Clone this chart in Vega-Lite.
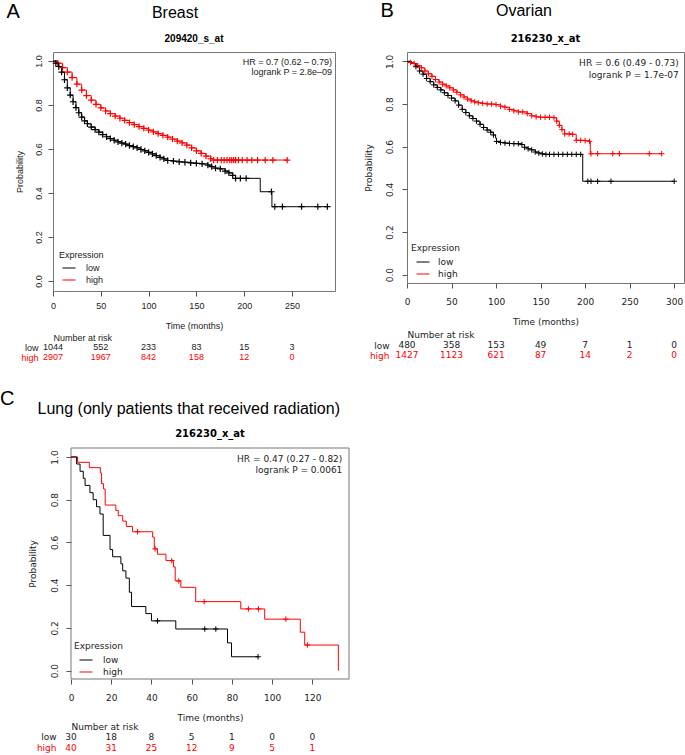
{
"$schema": "https://vega.github.io/schema/vega-lite/v6.json",
"padding": {"left": 0, "top": 0, "right": 0, "bottom": 0},
"background": "white",
"config": {
  "view": {"stroke": "#777777", "strokeWidth": 1},
  "axis": {"grid": false, "domain": false, "tickColor": "#555555", "tickSize": 5, "labelFontSize": 9, "titleFontSize": 9, "titleFontWeight": "normal", "labelColor": "#222222", "titleColor": "#222222", "labelFlush": false, "labelOverlap": false},
  "axisY": {"labelAngle": 270, "labelAlign": "center", "labelBaseline": "bottom"},
  "legend": {"symbolType": "stroke", "titleFontSize": 9, "titleFontWeight": "normal", "labelFontSize": 9, "padding": 0, "rowPadding": 2, "symbolStrokeWidth": 1, "labelColor": "#222222", "titleColor": "#222222"},
  "title": {"color": "#000000", "fontWeight": "normal"}
},
"datasets": {
"km": [
{"p":"A","g":"high","t":0,"s":1,"c":0},{"p":"A","g":"high","t":5,"s":0.99,"c":1},{"p":"A","g":"high","t":10,"s":0.97,"c":1},{"p":"A","g":"high","t":15,"s":0.95,"c":1},{"p":"A","g":"high","t":20,"s":0.925,"c":1},{"p":"A","g":"high","t":25,"s":0.895,"c":1},{"p":"A","g":"high","t":30,"s":0.868,"c":1},{"p":"A","g":"high","t":35,"s":0.843,"c":1},{"p":"A","g":"high","t":40,"s":0.822,"c":1},{"p":"A","g":"high","t":45,"s":0.803,"c":1},{"p":"A","g":"high","t":50,"s":0.787,"c":1},{"p":"A","g":"high","t":55,"s":0.773,"c":1},{"p":"A","g":"high","t":60,"s":0.761,"c":1},{"p":"A","g":"high","t":65,"s":0.75,"c":1},{"p":"A","g":"high","t":70,"s":0.74,"c":1},{"p":"A","g":"high","t":75,"s":0.73,"c":1},{"p":"A","g":"high","t":80,"s":0.72,"c":1},{"p":"A","g":"high","t":85,"s":0.711,"c":1},{"p":"A","g":"high","t":90,"s":0.702,"c":1},{"p":"A","g":"high","t":95,"s":0.694,"c":1},{"p":"A","g":"high","t":100,"s":0.686,"c":1},{"p":"A","g":"high","t":105,"s":0.678,"c":1},{"p":"A","g":"high","t":110,"s":0.67,"c":1},{"p":"A","g":"high","t":115,"s":0.662,"c":1},{"p":"A","g":"high","t":120,"s":0.654,"c":1},{"p":"A","g":"high","t":125,"s":0.645,"c":1},{"p":"A","g":"high","t":130,"s":0.636,"c":1},{"p":"A","g":"high","t":135,"s":0.628,"c":1},{"p":"A","g":"high","t":140,"s":0.618,"c":1},{"p":"A","g":"high","t":145,"s":0.605,"c":1},{"p":"A","g":"high","t":150,"s":0.592,"c":1},{"p":"A","g":"high","t":155,"s":0.58,"c":1},{"p":"A","g":"high","t":160,"s":0.568,"c":1},{"p":"A","g":"high","t":165,"s":0.556,"c":1},{"p":"A","g":"high","t":168,"s":0.55,"c":1},{"p":"A","g":"high","t":172,"s":0.55,"c":1},{"p":"A","g":"high","t":176,"s":0.55,"c":1},{"p":"A","g":"high","t":179,"s":0.55,"c":1},{"p":"A","g":"high","t":182,"s":0.55,"c":1},{"p":"A","g":"high","t":185,"s":0.55,"c":1},{"p":"A","g":"high","t":187,"s":0.55,"c":1},{"p":"A","g":"high","t":189,"s":0.55,"c":1},{"p":"A","g":"high","t":191,"s":0.55,"c":1},{"p":"A","g":"high","t":194,"s":0.55,"c":1},{"p":"A","g":"high","t":198,"s":0.55,"c":1},{"p":"A","g":"high","t":203,"s":0.55,"c":1},{"p":"A","g":"high","t":208,"s":0.55,"c":1},{"p":"A","g":"high","t":214,"s":0.55,"c":1},{"p":"A","g":"high","t":222,"s":0.55,"c":1},{"p":"A","g":"high","t":230,"s":0.55,"c":1},{"p":"A","g":"high","t":245,"s":0.55,"c":1},
{"p":"A","g":"low","t":0,"s":1,"c":0},{"p":"A","g":"low","t":3,"s":0.99,"c":1},{"p":"A","g":"low","t":6,"s":0.975,"c":1},{"p":"A","g":"low","t":9,"s":0.95,"c":1},{"p":"A","g":"low","t":12,"s":0.915,"c":1},{"p":"A","g":"low","t":15,"s":0.878,"c":1},{"p":"A","g":"low","t":18,"s":0.845,"c":1},{"p":"A","g":"low","t":21,"s":0.815,"c":1},{"p":"A","g":"low","t":24,"s":0.788,"c":1},{"p":"A","g":"low","t":27,"s":0.765,"c":1},{"p":"A","g":"low","t":30,"s":0.745,"c":1},{"p":"A","g":"low","t":33,"s":0.728,"c":1},{"p":"A","g":"low","t":36,"s":0.715,"c":1},{"p":"A","g":"low","t":40,"s":0.7,"c":1},{"p":"A","g":"low","t":44,"s":0.688,"c":1},{"p":"A","g":"low","t":48,"s":0.677,"c":1},{"p":"A","g":"low","t":52,"s":0.666,"c":1},{"p":"A","g":"low","t":56,"s":0.656,"c":1},{"p":"A","g":"low","t":60,"s":0.647,"c":1},{"p":"A","g":"low","t":64,"s":0.64,"c":1},{"p":"A","g":"low","t":68,"s":0.633,"c":1},{"p":"A","g":"low","t":72,"s":0.627,"c":1},{"p":"A","g":"low","t":76,"s":0.622,"c":1},{"p":"A","g":"low","t":80,"s":0.616,"c":1},{"p":"A","g":"low","t":84,"s":0.611,"c":1},{"p":"A","g":"low","t":88,"s":0.605,"c":1},{"p":"A","g":"low","t":92,"s":0.598,"c":1},{"p":"A","g":"low","t":96,"s":0.592,"c":1},{"p":"A","g":"low","t":100,"s":0.585,"c":1},{"p":"A","g":"low","t":104,"s":0.578,"c":1},{"p":"A","g":"low","t":108,"s":0.57,"c":1},{"p":"A","g":"low","t":112,"s":0.562,"c":1},{"p":"A","g":"low","t":116,"s":0.555,"c":1},{"p":"A","g":"low","t":120,"s":0.548,"c":1},{"p":"A","g":"low","t":126,"s":0.545,"c":1},{"p":"A","g":"low","t":132,"s":0.542,"c":1},{"p":"A","g":"low","t":138,"s":0.54,"c":1},{"p":"A","g":"low","t":144,"s":0.537,"c":1},{"p":"A","g":"low","t":150,"s":0.535,"c":1},{"p":"A","g":"low","t":156,"s":0.533,"c":1},{"p":"A","g":"low","t":162,"s":0.527,"c":1},{"p":"A","g":"low","t":166,"s":0.52,"c":1},{"p":"A","g":"low","t":170,"s":0.513,"c":1},{"p":"A","g":"low","t":175,"s":0.51,"c":1},{"p":"A","g":"low","t":180,"s":0.5,"c":1},{"p":"A","g":"low","t":184,"s":0.492,"c":1},{"p":"A","g":"low","t":188,"s":0.48,"c":1},{"p":"A","g":"low","t":191,"s":0.467,"c":1},{"p":"A","g":"low","t":196,"s":0.467,"c":1},{"p":"A","g":"low","t":202,"s":0.467,"c":1},{"p":"A","g":"low","t":216.8,"s":0.406,"c":0},{"p":"A","g":"low","t":228.5,"s":0.406,"c":1},{"p":"A","g":"low","t":229,"s":0.338,"c":0},{"p":"A","g":"low","t":232,"s":0.338,"c":1},{"p":"A","g":"low","t":240,"s":0.338,"c":1},{"p":"A","g":"low","t":260,"s":0.338,"c":1},{"p":"A","g":"low","t":277,"s":0.338,"c":1},{"p":"A","g":"low","t":287,"s":0.338,"c":1},
{"p":"B","g":"high","t":0,"s":1,"c":0},{"p":"B","g":"high","t":4,"s":0.995,"c":1},{"p":"B","g":"high","t":8,"s":0.99,"c":1},{"p":"B","g":"high","t":12,"s":0.98,"c":1},{"p":"B","g":"high","t":16,"s":0.97,"c":1},{"p":"B","g":"high","t":20,"s":0.955,"c":1},{"p":"B","g":"high","t":24,"s":0.942,"c":1},{"p":"B","g":"high","t":28,"s":0.93,"c":1},{"p":"B","g":"high","t":32,"s":0.915,"c":1},{"p":"B","g":"high","t":36,"s":0.903,"c":1},{"p":"B","g":"high","t":40,"s":0.893,"c":1},{"p":"B","g":"high","t":44,"s":0.885,"c":1},{"p":"B","g":"high","t":48,"s":0.876,"c":1},{"p":"B","g":"high","t":52,"s":0.866,"c":1},{"p":"B","g":"high","t":56,"s":0.855,"c":1},{"p":"B","g":"high","t":60,"s":0.843,"c":1},{"p":"B","g":"high","t":64,"s":0.833,"c":1},{"p":"B","g":"high","t":68,"s":0.823,"c":1},{"p":"B","g":"high","t":72,"s":0.815,"c":1},{"p":"B","g":"high","t":76,"s":0.81,"c":1},{"p":"B","g":"high","t":80,"s":0.806,"c":1},{"p":"B","g":"high","t":85,"s":0.803,"c":1},{"p":"B","g":"high","t":90,"s":0.8,"c":1},{"p":"B","g":"high","t":95,"s":0.8,"c":1},{"p":"B","g":"high","t":100,"s":0.797,"c":1},{"p":"B","g":"high","t":105,"s":0.79,"c":1},{"p":"B","g":"high","t":110,"s":0.785,"c":1},{"p":"B","g":"high","t":115,"s":0.775,"c":1},{"p":"B","g":"high","t":120,"s":0.768,"c":1},{"p":"B","g":"high","t":125,"s":0.763,"c":1},{"p":"B","g":"high","t":130,"s":0.763,"c":1},{"p":"B","g":"high","t":135,"s":0.755,"c":1},{"p":"B","g":"high","t":140,"s":0.745,"c":1},{"p":"B","g":"high","t":145,"s":0.74,"c":1},{"p":"B","g":"high","t":150,"s":0.738,"c":1},{"p":"B","g":"high","t":155,"s":0.738,"c":1},{"p":"B","g":"high","t":160,"s":0.738,"c":1},{"p":"B","g":"high","t":165,"s":0.736,"c":1},{"p":"B","g":"high","t":168,"s":0.72,"c":1},{"p":"B","g":"high","t":171,"s":0.7,"c":1},{"p":"B","g":"high","t":174,"s":0.68,"c":1},{"p":"B","g":"high","t":177,"s":0.66,"c":1},{"p":"B","g":"high","t":182,"s":0.66,"c":1},{"p":"B","g":"high","t":186,"s":0.658,"c":1},{"p":"B","g":"high","t":190,"s":0.63,"c":1},{"p":"B","g":"high","t":195,"s":0.63,"c":1},{"p":"B","g":"high","t":200,"s":0.628,"c":1},{"p":"B","g":"high","t":205,"s":0.625,"c":1},{"p":"B","g":"high","t":205.8,"s":0.567,"c":0},{"p":"B","g":"high","t":206.6,"s":0.567,"c":1},{"p":"B","g":"high","t":214,"s":0.567,"c":1},{"p":"B","g":"high","t":231,"s":0.567,"c":1},{"p":"B","g":"high","t":238.5,"s":0.567,"c":1},{"p":"B","g":"high","t":272,"s":0.567,"c":1},{"p":"B","g":"high","t":286,"s":0.567,"c":1},
{"p":"B","g":"low","t":0,"s":1,"c":0},{"p":"B","g":"low","t":5,"s":0.99,"c":0},{"p":"B","g":"low","t":10,"s":0.975,"c":1},{"p":"B","g":"low","t":14,"s":0.955,"c":1},{"p":"B","g":"low","t":18,"s":0.94,"c":1},{"p":"B","g":"low","t":22,"s":0.92,"c":1},{"p":"B","g":"low","t":26,"s":0.905,"c":1},{"p":"B","g":"low","t":30,"s":0.89,"c":1},{"p":"B","g":"low","t":34,"s":0.878,"c":1},{"p":"B","g":"low","t":38,"s":0.866,"c":1},{"p":"B","g":"low","t":42,"s":0.853,"c":1},{"p":"B","g":"low","t":46,"s":0.84,"c":1},{"p":"B","g":"low","t":50,"s":0.828,"c":1},{"p":"B","g":"low","t":54,"s":0.815,"c":1},{"p":"B","g":"low","t":58,"s":0.795,"c":1},{"p":"B","g":"low","t":62,"s":0.775,"c":1},{"p":"B","g":"low","t":66,"s":0.76,"c":1},{"p":"B","g":"low","t":70,"s":0.745,"c":1},{"p":"B","g":"low","t":74,"s":0.732,"c":1},{"p":"B","g":"low","t":78,"s":0.72,"c":1},{"p":"B","g":"low","t":82,"s":0.705,"c":1},{"p":"B","g":"low","t":86,"s":0.69,"c":1},{"p":"B","g":"low","t":90,"s":0.678,"c":1},{"p":"B","g":"low","t":94,"s":0.668,"c":1},{"p":"B","g":"low","t":97,"s":0.655,"c":1},{"p":"B","g":"low","t":99.5,"s":0.64,"c":0},{"p":"B","g":"low","t":100.5,"s":0.625,"c":1},{"p":"B","g":"low","t":105,"s":0.62,"c":1},{"p":"B","g":"low","t":110,"s":0.617,"c":1},{"p":"B","g":"low","t":115,"s":0.615,"c":1},{"p":"B","g":"low","t":120,"s":0.614,"c":1},{"p":"B","g":"low","t":125,"s":0.614,"c":1},{"p":"B","g":"low","t":129,"s":0.61,"c":1},{"p":"B","g":"low","t":132,"s":0.597,"c":1},{"p":"B","g":"low","t":136,"s":0.59,"c":1},{"p":"B","g":"low","t":140,"s":0.585,"c":1},{"p":"B","g":"low","t":144,"s":0.575,"c":1},{"p":"B","g":"low","t":148,"s":0.57,"c":1},{"p":"B","g":"low","t":152,"s":0.566,"c":1},{"p":"B","g":"low","t":156,"s":0.564,"c":1},{"p":"B","g":"low","t":160,"s":0.564,"c":1},{"p":"B","g":"low","t":165,"s":0.564,"c":1},{"p":"B","g":"low","t":170,"s":0.564,"c":1},{"p":"B","g":"low","t":175,"s":0.564,"c":1},{"p":"B","g":"low","t":180,"s":0.564,"c":1},{"p":"B","g":"low","t":185,"s":0.564,"c":1},{"p":"B","g":"low","t":190,"s":0.564,"c":1},{"p":"B","g":"low","t":195,"s":0.564,"c":1},{"p":"B","g":"low","t":197.3,"s":0.438,"c":0},{"p":"B","g":"low","t":203,"s":0.438,"c":1},{"p":"B","g":"low","t":206.6,"s":0.438,"c":1},{"p":"B","g":"low","t":214,"s":0.438,"c":1},{"p":"B","g":"low","t":229,"s":0.438,"c":1},{"p":"B","g":"low","t":300,"s":0.438,"c":1},
{"p":"C","g":"high","t":0,"s":1,"c":0},{"p":"C","g":"high","t":3.3,"s":0.975,"c":0},{"p":"C","g":"high","t":9.1,"s":0.95,"c":0},{"p":"C","g":"high","t":14.6,"s":0.925,"c":0},{"p":"C","g":"high","t":15.2,"s":0.875,"c":0},{"p":"C","g":"high","t":16.2,"s":0.85,"c":0},{"p":"C","g":"high","t":17,"s":0.775,"c":0},{"p":"C","g":"high","t":22.3,"s":0.75,"c":0},{"p":"C","g":"high","t":23.5,"s":0.725,"c":0},{"p":"C","g":"high","t":25.7,"s":0.7,"c":0},{"p":"C","g":"high","t":27.5,"s":0.675,"c":0},{"p":"C","g":"high","t":30.6,"s":0.65,"c":0},{"p":"C","g":"high","t":33.1,"s":0.65,"c":1},{"p":"C","g":"high","t":40.6,"s":0.625,"c":0},{"p":"C","g":"high","t":41.4,"s":0.57,"c":0},{"p":"C","g":"high","t":41.8,"s":0.57,"c":1},{"p":"C","g":"high","t":43,"s":0.545,"c":0},{"p":"C","g":"high","t":47.2,"s":0.515,"c":0},{"p":"C","g":"high","t":50.1,"s":0.515,"c":1},{"p":"C","g":"high","t":51,"s":0.485,"c":0},{"p":"C","g":"high","t":51.8,"s":0.42,"c":0},{"p":"C","g":"high","t":53.6,"s":0.42,"c":1},{"p":"C","g":"high","t":54.6,"s":0.39,"c":0},{"p":"C","g":"high","t":62,"s":0.323,"c":0},{"p":"C","g":"high","t":66.2,"s":0.323,"c":1},{"p":"C","g":"high","t":84.4,"s":0.289,"c":0},{"p":"C","g":"high","t":88.2,"s":0.289,"c":1},{"p":"C","g":"high","t":93.2,"s":0.289,"c":1},{"p":"C","g":"high","t":96.3,"s":0.241,"c":0},{"p":"C","g":"high","t":106.8,"s":0.241,"c":1},{"p":"C","g":"high","t":114,"s":0.18,"c":0},{"p":"C","g":"high","t":116.2,"s":0.12,"c":0},{"p":"C","g":"high","t":117.5,"s":0.12,"c":1},{"p":"C","g":"high","t":132.9,"s":0,"c":0},
{"p":"C","g":"low","t":0,"s":1,"c":0},{"p":"C","g":"low","t":2.8,"s":0.967,"c":0},{"p":"C","g":"low","t":4.5,"s":0.933,"c":0},{"p":"C","g":"low","t":6.1,"s":0.9,"c":0},{"p":"C","g":"low","t":7,"s":0.867,"c":0},{"p":"C","g":"low","t":9.4,"s":0.833,"c":0},{"p":"C","g":"low","t":11,"s":0.8,"c":0},{"p":"C","g":"low","t":12.7,"s":0.767,"c":0},{"p":"C","g":"low","t":14.4,"s":0.733,"c":0},{"p":"C","g":"low","t":16,"s":0.633,"c":0},{"p":"C","g":"low","t":19.4,"s":0.567,"c":0},{"p":"C","g":"low","t":20.7,"s":0.533,"c":0},{"p":"C","g":"low","t":24.8,"s":0.5,"c":0},{"p":"C","g":"low","t":25.7,"s":0.467,"c":0},{"p":"C","g":"low","t":27.3,"s":0.433,"c":0},{"p":"C","g":"low","t":29,"s":0.367,"c":0},{"p":"C","g":"low","t":30.1,"s":0.3,"c":0},{"p":"C","g":"low","t":37.2,"s":0.267,"c":0},{"p":"C","g":"low","t":40,"s":0.233,"c":0},{"p":"C","g":"low","t":43,"s":0.233,"c":1},{"p":"C","g":"low","t":52.1,"s":0.195,"c":0},{"p":"C","g":"low","t":66.5,"s":0.195,"c":1},{"p":"C","g":"low","t":72,"s":0.195,"c":1},{"p":"C","g":"low","t":77.8,"s":0.13,"c":0},{"p":"C","g":"low","t":79.8,"s":0.065,"c":0},{"p":"C","g":"low","t":93,"s":0.065,"c":1}
],
"risk": [
{"p":"A","g":"low","t":0,"n":1044},{"p":"A","g":"low","t":50,"n":552},{"p":"A","g":"low","t":100,"n":233},{"p":"A","g":"low","t":150,"n":83},{"p":"A","g":"low","t":200,"n":15},{"p":"A","g":"low","t":250,"n":3},
{"p":"A","g":"high","t":0,"n":2907},{"p":"A","g":"high","t":50,"n":1967},{"p":"A","g":"high","t":100,"n":842},{"p":"A","g":"high","t":150,"n":158},{"p":"A","g":"high","t":200,"n":12},{"p":"A","g":"high","t":250,"n":0},
{"p":"B","g":"low","t":0,"n":480},{"p":"B","g":"low","t":50,"n":358},{"p":"B","g":"low","t":100,"n":153},{"p":"B","g":"low","t":150,"n":49},{"p":"B","g":"low","t":200,"n":7},{"p":"B","g":"low","t":250,"n":1},{"p":"B","g":"low","t":300,"n":0},
{"p":"B","g":"high","t":0,"n":1427},{"p":"B","g":"high","t":50,"n":1123},{"p":"B","g":"high","t":100,"n":621},{"p":"B","g":"high","t":150,"n":87},{"p":"B","g":"high","t":200,"n":14},{"p":"B","g":"high","t":250,"n":2},{"p":"B","g":"high","t":300,"n":0},
{"p":"C","g":"low","t":0,"n":30},{"p":"C","g":"low","t":20,"n":18},{"p":"C","g":"low","t":40,"n":8},{"p":"C","g":"low","t":60,"n":5},{"p":"C","g":"low","t":80,"n":1},{"p":"C","g":"low","t":100,"n":0},{"p":"C","g":"low","t":120,"n":0},
{"p":"C","g":"high","t":0,"n":40},{"p":"C","g":"high","t":20,"n":31},{"p":"C","g":"high","t":40,"n":25},{"p":"C","g":"high","t":60,"n":12},{"p":"C","g":"high","t":80,"n":9},{"p":"C","g":"high","t":100,"n":5},{"p":"C","g":"high","t":120,"n":1}
],
"ann": [
{"p":"A","t":292,"s":1.015,"txt":"HR = 0.7 (0.62 – 0.79)\nlogrank P = 2.8e–09"},
{"p":"B","t":305,"s":1.011,"txt":"HR = 0.6 (0.49 - 0.73)\nlogrank P = 1.7e-07"},
{"p":"C","t":134.9,"s":1.011,"txt":"HR = 0.47 (0.27 - 0.82)\nlogrank P = 0.0061"}
]
},
"spacing": 25,
"resolve": {"scale": {"x": "independent", "y": "independent", "color": "independent"}, "axis": {"x": "independent", "y": "independent"}, "legend": {"color": "independent"}},
"vconcat": [
{
"spacing": 27,
"resolve": {"scale": {"x": "independent", "y": "independent", "color": "independent"}, "axis": {"x": "independent", "y": "independent"}, "legend": {"color": "independent"}},
"hconcat": [
{
"title": {"text": "A", "font": "Liberation Sans", "fontSize": 20, "anchor": "start", "frame": "bounds", "offset": -17, "dx": -8},
"resolve": {"scale": {"x": "independent", "y": "independent", "color": "independent"}, "axis": {"x": "independent", "y": "independent"}, "legend": {"color": "independent"}},
"vconcat": [
{
"title": {"text": "Breast", "font": "Liberation Sans", "fontSize": 16, "anchor": "middle", "frame": "bounds", "offset": 12.5},
"resolve": {"scale": {"x": "independent", "y": "independent", "color": "independent"}, "axis": {"x": "independent", "y": "independent"}, "legend": {"color": "independent"}},
"vconcat": [
{
"width": 282, "height": 239,
"title": {"text": "209420_s_at", "font": "Liberation Sans", "fontSize": 10, "fontWeight": "bold", "anchor": "middle", "frame": "group", "offset": 8.5},
"encoding": {
"x": {"field": "t", "type": "quantitative", "scale": {"domain": [0, 295], "nice": false, "zero": false}, "axis": {"values": [0, 50, 100, 150, 200, 250], "title": "Time (months)", "labelFont": "Liberation Sans", "titleFont": "Liberation Sans", "labelPadding": 5, "titlePadding": 11}}
},
"layer": [
{"data": {"name": "km"}, "transform": [{"filter": "datum.p === 'A'"}], "mark": {"type": "line", "interpolate": "step-after", "strokeWidth": 1},
 "encoding": {
  "y": {"field": "s", "type": "quantitative", "scale": {"domain": [-0.045, 1.041], "nice": false, "zero": false}, "axis": {"values": [0, 0.2, 0.4, 0.6, 0.8, 1], "format": ".1f", "title": "Probability", "labelFont": "Liberation Sans", "titleFont": "Liberation Sans", "labelPadding": 5, "titlePadding": 10}},
  "color": {"field": "g", "type": "nominal", "scale": {"domain": ["low", "high"], "range": ["#000000", "#ff0000"]}, "legend": {"title": "Expression", "orient": "bottom-left", "offset": 6, "symbolType": "stroke", "symbolOffset": 3, "symbolSize": 169, "labelOffset": 10, "titlePadding": 1, "rowPadding": -6, "labelFont": "Liberation Sans", "titleFont": "Liberation Sans"}}
 }},
{"data": {"name": "km"}, "transform": [{"filter": "datum.p === 'A' && datum.c === 1"}], "mark": {"type": "point", "shape": "M-1,0L1,0M0,-1L0,1", "size": 40, "filled": false, "strokeWidth": 1.2, "opacity": 1},
 "encoding": {
  "y": {"field": "s", "type": "quantitative", "scale": {"domain": [-0.045, 1.041], "nice": false, "zero": false}, "axis": null},
  "color": {"field": "g", "type": "nominal", "scale": {"domain": ["low", "high"], "range": ["#000000", "#ff0000"]}, "legend": {"title": "Expression", "orient": "bottom-left", "offset": 6, "symbolType": "stroke", "symbolOffset": 3, "symbolSize": 169, "labelOffset": 10, "titlePadding": 1, "rowPadding": -6, "labelFont": "Liberation Sans", "titleFont": "Liberation Sans"}}
 }},
{"data": {"name": "ann"}, "transform": [{"filter": "datum.p === 'A'"}], "mark": {"type": "text", "align": "right", "baseline": "top", "lineBreak": "\n", "font": "Liberation Sans", "fontSize": 9, "lineHeight": 10},
 "encoding": {"y": {"field": "s", "type": "quantitative", "scale": {"domain": [-0.045, 1.041], "nice": false, "zero": false}, "axis": null}, "text": {"field": "txt"}, "color": {"value": "#222222"}}},
{"data": {"name": "risk"}, "transform": [{"filter": "datum.p === 'A'"}], "mark": {"type": "text", "font": "Liberation Sans", "fontSize": 9},
 "encoding": {
  "y": {"field": "g", "type": "nominal", "scale": {"type": "point", "domain": ["low", "high"], "range": [295, 305], "padding": 0}, "axis": {"orient": "left", "title": "Number at risk", "titleAngle": 0, "titleAlign": "left", "titleBaseline": "middle", "titleX": 0, "titleY": 285, "titleFont": "Liberation Sans", "titleFontSize": 9, "ticks": false, "domain": false, "labelAngle": 0, "labelAlign": "right", "labelBaseline": "middle", "labelPadding": 15, "labelFont": "Liberation Sans", "labelFontSize": 9, "labelColor": {"expr": "datum.value === 'high' ? '#ff0000' : '#222222'"}}},
  "text": {"field": "n", "type": "nominal"},
  "color": {"condition": {"test": "datum.g === 'high'", "value": "#ff0000"}, "value": "#222222"}
 }}
],
"resolve": {"scale": {"y": "independent"}, "axis": {"y": "independent"}}
}
]
}
]
},
{
"title": {"text": "B", "font": "Liberation Sans", "fontSize": 20, "anchor": "start", "frame": "bounds", "offset": -18, "dx": 17},
"resolve": {"scale": {"x": "independent", "y": "independent", "color": "independent"}, "axis": {"x": "independent", "y": "independent"}, "legend": {"color": "independent"}},
"vconcat": [
{
"title": {"text": "Ovarian", "font": "Liberation Sans", "fontSize": 16, "anchor": "middle", "frame": "bounds", "offset": 15},
"resolve": {"scale": {"x": "independent", "y": "independent", "color": "independent"}, "axis": {"x": "independent", "y": "independent"}, "legend": {"color": "independent"}},
"vconcat": [
{
"width": 277, "height": 231,
"title": {"text": "216230_x_at", "font": "DejaVu Sans", "fontSize": 10, "fontWeight": "bold", "anchor": "middle", "frame": "group", "offset": 7.8},
"encoding": {
"x": {"field": "t", "type": "quantitative", "scale": {"domain": [0, 311], "nice": false, "zero": false}, "axis": {"values": [0, 50, 100, 150, 200, 250, 300], "title": "Time (months)", "labelFont": "DejaVu Sans", "titleFont": "DejaVu Sans", "labelPadding": 9, "titlePadding": 11.5}}
},
"layer": [
{"data": {"name": "km"}, "transform": [{"filter": "datum.p === 'B'"}], "mark": {"type": "line", "interpolate": "step-after", "strokeWidth": 1},
 "encoding": {
  "y": {"field": "s", "type": "quantitative", "scale": {"domain": [-0.039, 1.044], "nice": false, "zero": false}, "axis": {"values": [0, 0.2, 0.4, 0.6, 0.8, 1], "format": ".1f", "title": "Probability", "labelFont": "DejaVu Sans", "titleFont": "DejaVu Sans", "labelPadding": 8, "titlePadding": 12}},
  "color": {"field": "g", "type": "nominal", "scale": {"domain": ["low", "high"], "range": ["#000000", "#ff0000"]}, "legend": {"title": "Expression", "orient": "bottom-left", "offset": 4, "symbolType": "stroke", "symbolOffset": 5, "symbolSize": 169, "labelOffset": 8, "titlePadding": 2, "rowPadding": -6, "labelFont": "DejaVu Sans", "titleFont": "DejaVu Sans"}}
 }},
{"data": {"name": "km"}, "transform": [{"filter": "datum.p === 'B' && datum.c === 1"}], "mark": {"type": "point", "shape": "M-1,0L1,0M0,-1L0,1", "size": 30, "filled": false, "strokeWidth": 1, "opacity": 1},
 "encoding": {
  "y": {"field": "s", "type": "quantitative", "scale": {"domain": [-0.039, 1.044], "nice": false, "zero": false}, "axis": null},
  "color": {"field": "g", "type": "nominal", "scale": {"domain": ["low", "high"], "range": ["#000000", "#ff0000"]}, "legend": {"title": "Expression", "orient": "bottom-left", "offset": 4, "symbolType": "stroke", "symbolOffset": 5, "symbolSize": 169, "labelOffset": 8, "titlePadding": 2, "rowPadding": -6, "labelFont": "DejaVu Sans", "titleFont": "DejaVu Sans"}}
 }},
{"data": {"name": "ann"}, "transform": [{"filter": "datum.p === 'B'"}], "mark": {"type": "text", "align": "right", "baseline": "top", "lineBreak": "\n", "font": "DejaVu Sans", "fontSize": 9, "lineHeight": 12},
 "encoding": {"y": {"field": "s", "type": "quantitative", "scale": {"domain": [-0.039, 1.044], "nice": false, "zero": false}, "axis": null}, "text": {"field": "txt"}, "color": {"value": "#222222"}}},
{"data": {"name": "risk"}, "transform": [{"filter": "datum.p === 'B'"}], "mark": {"type": "text", "font": "DejaVu Sans", "fontSize": 9},
 "encoding": {
  "y": {"field": "g", "type": "nominal", "scale": {"type": "point", "domain": ["low", "high"], "range": [293, 303], "padding": 0}, "axis": {"orient": "left", "title": "Number at risk", "titleAngle": 0, "titleAlign": "left", "titleBaseline": "middle", "titleX": 0, "titleY": 282, "titleFont": "DejaVu Sans", "titleFontSize": 9, "ticks": false, "domain": false, "labelAngle": 0, "labelAlign": "right", "labelBaseline": "middle", "labelPadding": 18, "labelFont": "DejaVu Sans", "labelFontSize": 9, "labelColor": {"expr": "datum.value === 'high' ? '#ff0000' : '#222222'"}}},
  "text": {"field": "n", "type": "nominal"},
  "color": {"condition": {"test": "datum.g === 'high'", "value": "#ff0000"}, "value": "#222222"}
 }}
],
"resolve": {"scale": {"y": "independent"}, "axis": {"y": "independent"}}
}
]
}
]
}
]
},
{
"title": {"text": "C", "font": "Liberation Sans", "fontSize": 20, "anchor": "start", "frame": "bounds", "offset": -8, "dx": -28},
"resolve": {"scale": {"x": "independent", "y": "independent", "color": "independent"}, "axis": {"x": "independent", "y": "independent"}, "legend": {"color": "independent"}},
"vconcat": [
{
"title": {"text": "Lung (only patients that received radiation)", "font": "Liberation Sans", "fontSize": 16, "anchor": "middle", "frame": "bounds", "offset": 12},
"resolve": {"scale": {"x": "independent", "y": "independent", "color": "independent"}, "axis": {"x": "independent", "y": "independent"}, "legend": {"color": "independent"}},
"vconcat": [
{
"width": 296, "height": 231,
"view": {"stroke": null},
"title": {"text": "216230_x_at", "font": "DejaVu Sans", "fontSize": 10, "fontWeight": "bold", "anchor": "middle", "frame": "group", "offset": 9, "dx": 9},
"encoding": {
"x": {"field": "t", "type": "quantitative", "scale": {"domain": [0, 138.2], "range": [18, 296], "nice": false, "zero": false}, "axis": {"values": [0, 20, 40, 60, 80, 100, 120], "title": "Time (months)", "labelFont": "DejaVu Sans", "titleFont": "DejaVu Sans", "labelPadding": 9, "titlePadding": 11}}
},
"layer": [
{"data": {"name": "ann"}, "transform": [{"filter": "datum.p === 'C'"}], "mark": {"type": "rect", "filled": false, "color": "#777777", "strokeWidth": 1},
 "encoding": {"x": {"datum": 0, "type": "quantitative"}, "x2": {"datum": 138.2}, "y": {"datum": -0.039, "type": "quantitative", "scale": {"domain": [-0.039, 1.042], "nice": false, "zero": false}, "axis": null}, "y2": {"datum": 1.042}}},
{"data": {"name": "km"}, "transform": [{"filter": "datum.p === 'C'"}], "mark": {"type": "line", "interpolate": "step-after", "strokeWidth": 1},
 "encoding": {
  "y": {"field": "s", "type": "quantitative", "scale": {"domain": [-0.039, 1.042], "nice": false, "zero": false}, "axis": {"offset": -18, "values": [0, 0.2, 0.4, 0.6, 0.8, 1], "format": ".1f", "title": "Probability", "labelFont": "DejaVu Sans", "titleFont": "DejaVu Sans", "labelPadding": 7, "titlePadding": 13}},
  "color": {"field": "g", "type": "nominal", "scale": {"domain": ["low", "high"], "range": ["#000000", "#ff0000"]}, "legend": {"title": "Expression", "orient": "none", "legendX": 21, "legendY": 194, "symbolType": "stroke", "symbolOffset": 5, "symbolSize": 169, "labelOffset": 10, "titlePadding": 2, "rowPadding": -6, "labelFont": "DejaVu Sans", "titleFont": "DejaVu Sans"}}
 }},
{"data": {"name": "km"}, "transform": [{"filter": "datum.p === 'C' && datum.c === 1"}], "mark": {"type": "point", "shape": "M-1,0L1,0M0,-1L0,1", "size": 30, "filled": false, "strokeWidth": 1, "opacity": 1},
 "encoding": {
  "y": {"field": "s", "type": "quantitative", "scale": {"domain": [-0.039, 1.042], "nice": false, "zero": false}, "axis": null},
  "color": {"field": "g", "type": "nominal", "scale": {"domain": ["low", "high"], "range": ["#000000", "#ff0000"]}, "legend": {"title": "Expression", "orient": "none", "legendX": 21, "legendY": 194, "symbolType": "stroke", "symbolOffset": 5, "symbolSize": 169, "labelOffset": 10, "titlePadding": 2, "rowPadding": -6, "labelFont": "DejaVu Sans", "titleFont": "DejaVu Sans"}}
 }},
{"data": {"name": "ann"}, "transform": [{"filter": "datum.p === 'C'"}], "mark": {"type": "text", "align": "right", "baseline": "top", "lineBreak": "\n", "font": "DejaVu Sans", "fontSize": 9, "lineHeight": 11},
 "encoding": {"y": {"field": "s", "type": "quantitative", "scale": {"domain": [-0.039, 1.042], "nice": false, "zero": false}, "axis": null}, "text": {"field": "txt"}, "color": {"value": "#222222"}}},
{"data": {"name": "risk"}, "transform": [{"filter": "datum.p === 'C'"}], "mark": {"type": "text", "font": "DejaVu Sans", "fontSize": 9},
 "encoding": {
  "y": {"field": "g", "type": "nominal", "scale": {"type": "point", "domain": ["low", "high"], "range": [288.7, 299.7], "padding": 0}, "axis": {"orient": "left", "offset": -18, "title": "Number at risk", "titleAngle": 0, "titleAlign": "left", "titleBaseline": "middle", "titleX": 0, "titleY": 278.7, "titleFont": "DejaVu Sans", "titleFontSize": 9, "ticks": false, "domain": false, "labelAngle": 0, "labelAlign": "right", "labelBaseline": "middle", "labelPadding": 15, "labelFont": "DejaVu Sans", "labelFontSize": 9, "labelColor": {"expr": "datum.value === 'high' ? '#ff0000' : '#222222'"}}},
  "text": {"field": "n", "type": "nominal"},
  "color": {"condition": {"test": "datum.g === 'high'", "value": "#ff0000"}, "value": "#222222"}
 }}
],
"resolve": {"scale": {"y": "independent"}, "axis": {"y": "independent"}}
}
]
}
]
}
]
}
